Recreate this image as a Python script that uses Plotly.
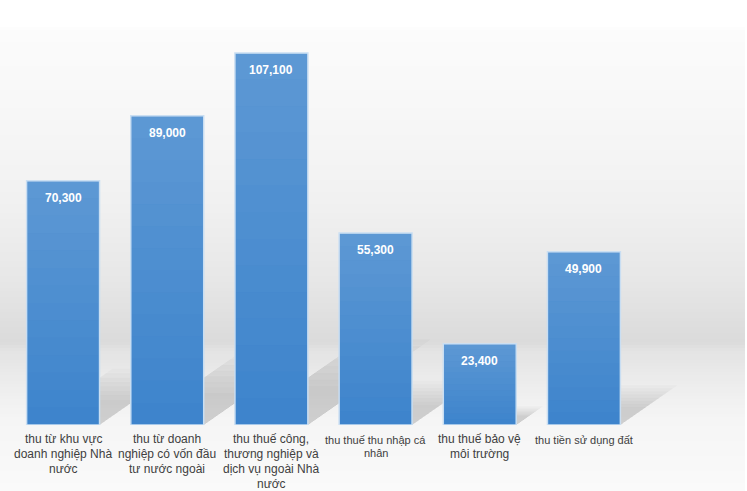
import plotly.graph_objects as go
import numpy as np

# ---- data ----
categories = [
    "thu từ khu vực<br>doanh nghiệp Nhà<br>nước",
    "thu từ doanh<br>nghiệp có vốn đầu<br>tư nước ngoài",
    "thu thuế công,<br>thương nghiệp và<br>dịch vụ ngoài Nhà<br>nước",
    "thu thuế thu nhập cá<br>nhân",
    "thu thuế bảo vệ<br>môi trường",
    "thu tiền sử dụng đất",
]
values = [70300, 89000, 107100, 55300, 23400, 49900]
label_sizes = [12, 12, 12, 11, 12, 11]

# ---- layout geometry ----
W, H = 747, 491
ML, MR, MT, MB = 11, 111, 20, 66
PW, PH = W - ML - MR, H - MT - MB
YMAX = 116600
n = len(categories)
xs = list(range(n))
BAR_W = 0.7

fig = go.Figure()
fig.add_trace(go.Bar(
    x=xs, y=values, width=BAR_W,
    marker=dict(color="#3d84cc", line=dict(color="#c9def2", width=1.5)),
    hoverinfo="skip", showlegend=False,
))

shapes = []
# background gradient (paper coords)
stops_px = [0, 26, 32, 100, 200, 280, 330, 343, 350, 385, 420, 491]
stops_g = [255, 255, 251, 248, 241, 231, 221, 219, 227, 237, 245, 250]
def py(p):
    return (H - MB - p) / PH
x0p, x1p = -ML / PW, (W - ML - 2) / PW
step = 3
for p in range(0, H, step):
    g = int(round(np.interp(p + step / 2, stops_px, stops_g)))
    shapes.append(dict(type="rect", xref="paper", yref="paper", x0=x0p, x1=x1p,
                       y0=py(p + step), y1=py(p), fillcolor=f"rgb({g},{g},{g})",
                       line=dict(width=0), layer="below"))

# soft floor shadows derived from values (paper coords so they are not clipped)
def cat_to_paper(c):
    return (c + 0.5) / n
def val_to_paper(v):
    return v / YMAX
px_per_unit = PH / YMAX
px_per_cat = PW / n
for i, v in enumerate(values):
    hpx = v * px_per_unit
    for f in np.linspace(1.0, 0.45, 8):
        dy = 0.23 * hpx * f / px_per_unit
        dx = 0.33 * hpx * f / px_per_cat
        xl = i - BAR_W / 2 + 0.05
        xr = i + BAR_W / 2
        pts = [(xl, 0), (xr, 0), (xr + dx, dy), (xl + dx, dy)]
        path = "M " + " L ".join(f"{cat_to_paper(a):.5f},{val_to_paper(b):.5f}" for a, b in pts) + " Z"
        shapes.append(dict(type="path", xref="paper", yref="paper", path=path,
                           fillcolor="rgba(50,50,50,0.022)", line=dict(width=0),
                           layer="below"))
    # bar gradient overlay (lighter toward top)
    nseg = 14
    for s in range(nseg):
        y0 = v * s / nseg
        y1 = v * (s + 1) / nseg
        op = 0.17 * (s + 0.5) / nseg
        shapes.append(dict(type="rect", xref="x", yref="y",
                           x0=i - BAR_W / 2 + 0.008, x1=i + BAR_W / 2 - 0.008,
                           y0=y0, y1=y1, fillcolor=f"rgba(255,255,255,{op:.3f})",
                           line=dict(width=0), layer="above"))

annotations = []
for i, v in enumerate(values):
    annotations.append(dict(x=i, y=v, xref="x", yref="y", text=f"{v:,}",
                            showarrow=False, yanchor="top", yshift=-8,
                            font=dict(family="Liberation Sans Narrow, Liberation Sans, Arial",
                                      size=12, color="white", weight="bold")))
    lines = categories[i].split("<br>")
    fs = label_sizes[i]
    lh = 15 if fs > 11.5 else 13
    for k, line in enumerate(lines):
        annotations.append(dict(x=i, y=0, xref="x", yref="y", text=line,
                                showarrow=False, yanchor="middle",
                                yshift=-(14 + k * lh) if fs > 11.5 else -(15 + k * lh),
                                font=dict(family="Liberation Sans, Arial", size=fs,
                                          color="#404040")))

fig.update_layout(
    width=W, height=H,
    margin=dict(l=ML, r=MR, t=MT, b=MB, pad=0),
    paper_bgcolor="white", plot_bgcolor="rgba(0,0,0,0)",
    shapes=shapes, annotations=annotations,
    bargap=0.3,
    xaxis=dict(range=[-0.5, n - 0.5], showticklabels=False, showgrid=False,
               zeroline=False, showline=False, ticks=""),
    yaxis=dict(range=[0, YMAX], showticklabels=False, showgrid=False,
               zeroline=False, showline=False, ticks=""),
)

fig.write_html("out.html", config={"displayModeBar": False},
               post_script="document.body.style.margin='0';")
